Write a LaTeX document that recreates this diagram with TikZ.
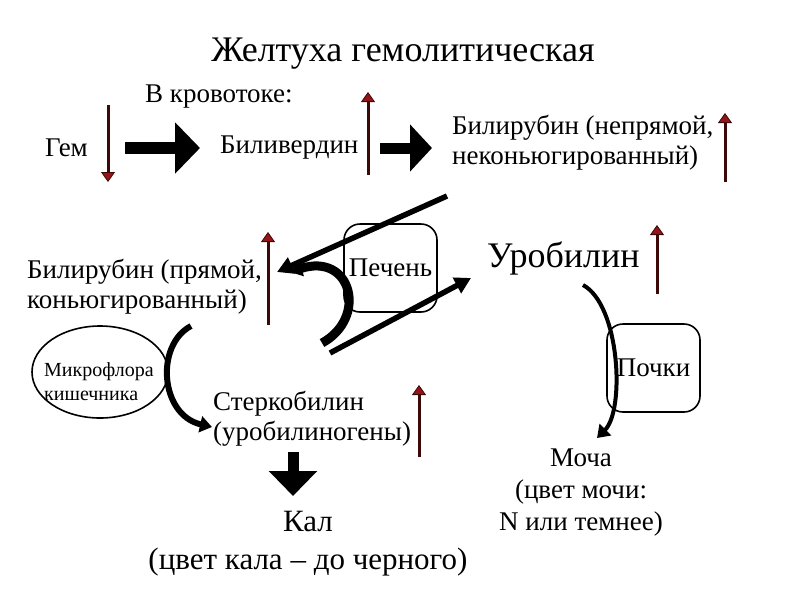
\documentclass[tikz,border=0pt]{standalone}
\usepackage{fontspec}
\setmainfont{Liberation Serif}
\usetikzlibrary{arrows.meta,shapes.geometric}
\definecolor{shaftred}{RGB}{60,8,8}
\definecolor{headred}{RGB}{150,20,25}
\begin{document}
\begin{tikzpicture}[x=1pt,y=-1pt,
  lbl/.style={font=\fontsize{27}{30}\selectfont, inner sep=0pt, align=left},
  ctr/.style={font=\fontsize{27}{32}\selectfont, inner sep=0pt, align=center},
  kalst/.style={font=\fontsize{31}{38}\selectfont, inner sep=0pt, align=center},
  ttl/.style={font=\fontsize{36}{40}\selectfont, inner sep=0pt},
  bigl/.style={font=\fontsize{36}{40}\selectfont, inner sep=0pt},
  organ/.style={draw, line width=1.6pt, rounded corners=16pt, minimum width=93pt, minimum height=88pt, font=\fontsize{27}{30}\selectfont, inner sep=0pt},
  flora/.style={draw, line width=1.6pt, ellipse, minimum width=136pt, minimum height=92pt, inner sep=0pt},
  floratext/.style={font=\fontsize{20}{24}\selectfont, align=left, inner sep=0pt},
  redarr/.style={draw=shaftred, line width=3pt, -{Triangle[length=10pt,width=14pt,fill=headred,color=shaftred,line width=0.8pt]}},
  blockarr/.style={line width=12pt, -{Triangle[length=25pt,width=50pt]}},
  thinarr/.style={line width=5.5pt, -{Triangle[length=16pt,width=17pt]}},
  curvarr/.style={line width=#1, -{Triangle[length=12pt,width=16pt]}},
]
\useasboundingbox (0,0) rectangle (800,600);

% texts
\node[ttl] (title) at (403,54) {Желтуха гемолитическая};
\node[lbl,anchor=west] (krov) at (145,97) {В кровотоке:};
\node[lbl,anchor=west] (gem) at (45,148) {Гем};
\node[lbl,anchor=west] (bv) at (220,148) {Биливердин};
\node[lbl,anchor=west] (bn) at (452,143) {Билирубин (непрямой,\\неконьюгированный)};
\node[lbl,anchor=west] (bp) at (27,287) {Билирубин (прямой,\\коньюгированный)};
\node[organ] (liver) at (390.5,268) {Печень};
\node[bigl,anchor=west] (uro) at (487,258) {Уробилин};
\node[organ] (kid) at (653.5,368) {Почки};
\node[flora] (micro) at (100,372) {};
\node[floratext,anchor=west] (microtext) at (44,382) {Микрофлора\\кишечника};
\node[lbl,anchor=west] (sterk) at (213,419) {Стеркобилин\\(уробилиногены)};
\node[kalst] (kal) at (308,544) {Кал\\(цвет кала – до черного)};
\node[ctr] (mocha) at (581,493) {Моча\\(цвет мочи:\\N или темнее)};

% red indicator arrows
\coordinate (r1a) at (108,105); \coordinate (r1b) at (108,182);
\draw[redarr] (r1a) -- (r1b);
\coordinate (r2a) at (368,175); \coordinate (r2b) at (368,92);
\draw[redarr] (r2a) -- (r2b);
\coordinate (r3a) at (725,182); \coordinate (r3b) at (725,113);
\draw[redarr] (r3a) -- (r3b);
\coordinate (r4a) at (268,325); \coordinate (r4b) at (268,232);
\draw[redarr] (r4a) -- (r4b);
\coordinate (r5a) at (419,457); \coordinate (r5b) at (419,385);
\draw[redarr] (r5a) -- (r5b);
\coordinate (r6a) at (657,294); \coordinate (r6b) at (657,225);
\draw[redarr] (r6a) -- (r6b);

% block arrows
\coordinate (b1a) at (125,148); \coordinate (b1b) at (200,148);
\draw[blockarr] (b1a) -- (b1b);
\coordinate (b2a) at (380,148); \coordinate (b2b) at (432,148);
\draw[line width=11pt, -{Triangle[length=22pt,width=46pt]}] (b2a) -- (b2b);
\coordinate (b3a) at (293,452); \coordinate (b3b) at (293,496);
\draw[line width=11pt, -{Triangle[length=25pt,width=47pt]}] (b3a) -- (b3b);

% liver arrows
\coordinate (l1a) at (447,196); \coordinate (l1b) at (277,272);
\draw[thinarr] (l1a) -- (l1b);
\coordinate (l2a) at (330,353); \coordinate (l2b) at (471,278);
\draw[thinarr] (l2a) -- (l2b);
\coordinate (c1a) at (322,343); \coordinate (c1b) at (290,272);
\draw[curvarr=9pt] (c1a) .. controls (368,318) and (352,252) .. (c1b);

% flora arrow
\coordinate (c2a) at (191,326); \coordinate (c2b) at (212,427);
\draw[curvarr=6pt] (c2a) .. controls (155,345) and (160,415) .. (c2b);

% kidney arrow
\coordinate (c3a) at (583,285); \coordinate (c3b) at (597,438);
\draw[curvarr=4pt] (c3a) .. controls (620,305) and (625,410) .. (c3b);
\end{tikzpicture}
\end{document}
